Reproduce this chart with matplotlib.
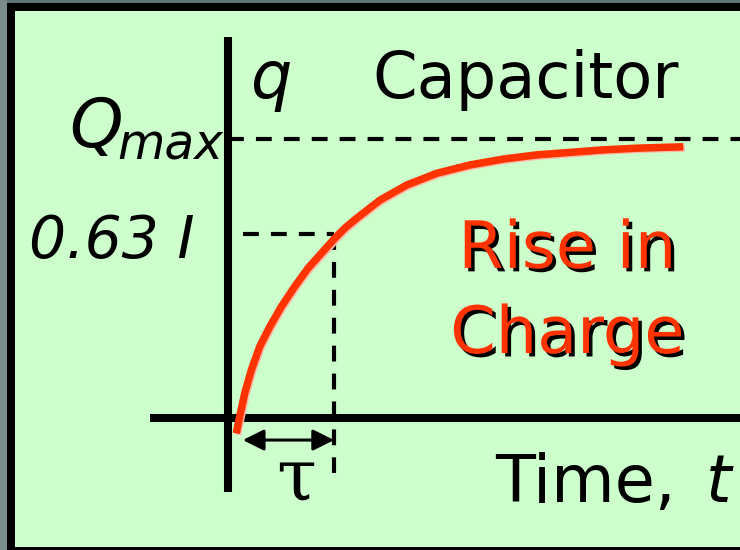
import matplotlib
matplotlib.use("Agg")
import matplotlib.pyplot as plt
import matplotlib.patheffects as pe
from matplotlib.patches import Rectangle
import matplotlib.transforms as mtransforms

# hand drawn charging curve, time in units of tau, charge in units of Qmax
t_curve = [0.078, 0.110, 0.158, 0.220, 0.299, 0.394, 0.503, 0.629, 0.755, 0.880,
           1.007, 1.101, 1.214, 1.434, 1.686, 1.969, 2.283, 2.597, 2.912, 3.226,
           3.541, 3.856, 4.107, 4.295]
q_curve = [-0.055, 0.005, 0.089, 0.172, 0.256, 0.327, 0.399, 0.471, 0.537, 0.590,
           0.644, 0.680, 0.716, 0.781, 0.835, 0.877, 0.907, 0.928, 0.943, 0.952,
           0.961, 0.967, 0.970, 0.972]

q_max = 1.0
q_63 = 0.66
tau = 1.0
t_start = 0.14

red = '#ff3300'
green = '#ccffcc'
W, H = 740, 550

fig = plt.figure(figsize=(7.4, 5.5), dpi=100)
fig.patch.set_facecolor(green)

# slide frame: gray strip, then black border on left, top and bottom
def strip(x, y, w, h, color):
    fig.add_artist(Rectangle((x / W, 1 - (y + h) / H), w / W, h / H,
                             transform=fig.transFigure, facecolor=color,
                             edgecolor='none', zorder=0))

strip(0, 0, W, 3, '#5f7373')
strip(0, 0, 7, H, '#7a8c8c')
strip(7, 3, W - 7, 8, 'black')
strip(7, 3, 8, H - 3, 'black')
strip(7, H - 3, W - 7, 3, 'black')

ax = fig.add_axes([0, 0, 1, 1])
ax.set_facecolor('none')
ax.set_xlim(-2.151, 4.830)
ax.set_ylim(-0.473, 1.498)
ax.axis('off')

# axes
ax.plot([0, 0], [-0.265, 1.366], color='black', lw=5.8, solid_capstyle='butt')
ax.plot([-0.736, 4.83], [0, 0], color='black', lw=5.8, solid_capstyle='butt')

# dashed guides
dash = (0, (3.8, 2.9))
ax.plot([0, 4.83], [q_max, q_max], color='black', lw=3, linestyle=dash)
ax.plot([t_start, tau], [q_63, q_63], color='black', lw=3, linestyle=dash)
ax.plot([tau, tau], [q_63, -0.197], color='black', lw=3, linestyle=dash)

# curve with a faint pink shadow
shadow = mtransforms.offset_copy(ax.transData, fig=fig, x=1.5, y=-1.5, units='dots')
ax.plot(t_curve, q_curve, color='#ffb8a8', lw=5, transform=shadow,
        solid_capstyle='butt', solid_joinstyle='round')
ax.plot(t_curve, q_curve, color=red, lw=5.4, solid_capstyle='butt', solid_joinstyle='round')

# tau arrow
ax.annotate('', xy=(t_start, -0.079), xytext=(tau, -0.079),
            arrowprops=dict(arrowstyle='<|-|>', color='black', lw=2.2,
                            mutation_scale=32, shrinkA=0, shrinkB=0))

ax.text(0.415, 1.147, 'q', fontsize=47, style='italic', ha='center', va='baseline')
ax.text(1.358, 1.147, 'Capacitor', fontsize=46, ha='left', va='baseline')
ax.text(-0.99, 0.971, 'Q', fontsize=49, style='italic', ha='right', va='baseline')
ax.text(-1.047, 0.925, 'max', fontsize=35, style='italic', ha='left', va='baseline')
ax.text(-0.311, 0.573, '0.63 I', fontsize=42, style='italic', ha='right', va='baseline')

shade = [pe.SimplePatchShadow(offset=(2.5, -2.5), shadow_rgbFace='black', alpha=1), pe.Normal()]
ax.text(3.2, 0.538, 'Rise in', fontsize=47, color=red, ha='center', va='baseline',
        path_effects=shade)
ax.text(3.2, 0.233, 'Charge', fontsize=47, color=red, ha='center', va='baseline',
        path_effects=shade)

ax.text(2.519, -0.301, 'Time,', fontsize=47, ha='left', va='baseline')
ax.text(4.51, -0.301, 't', fontsize=47, style='italic', ha='left', va='baseline')
ax.text(0.642, -0.294, 'τ', fontsize=52, family='DejaVu Serif', ha='center', va='baseline')

fig.savefig('out.png', dpi=100, facecolor=fig.get_facecolor())
